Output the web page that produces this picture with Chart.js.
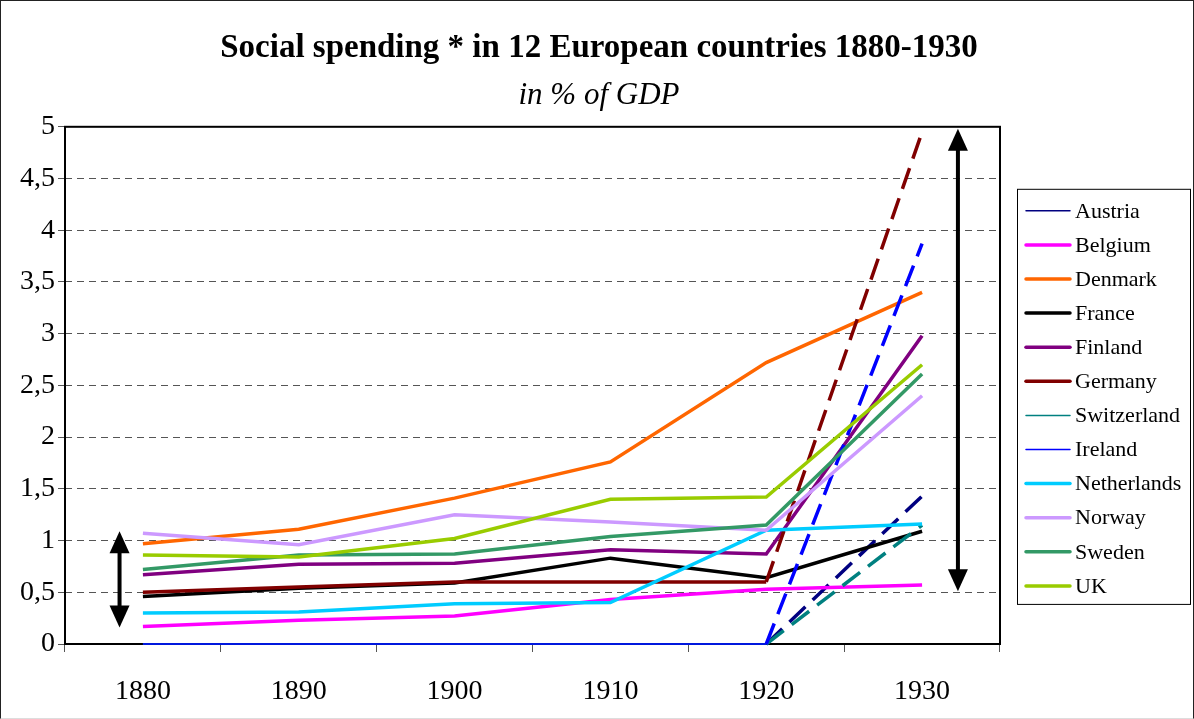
<!DOCTYPE html>
<html>
<head>
<meta charset="utf-8">
<script src="https://cdn.jsdelivr.net/npm/chart.js@4.4.1/dist/chart.umd.min.js"></script>
<style>
  html, body { margin: 0; padding: 0; background: #fff; }
  #marco { width: 1194px; height: 719px; box-sizing: border-box; border: 1px solid #222; border-bottom-color: #ddd; }
</style>
</head>
<body>
<div id="marco"><canvas id="lienzo"></canvas></div>
<script>
"use strict";

// Datos (% del PIB)
const years = ["1880", "1890", "1900", "1910", "1920", "1930"];
const countries = ["Austria", "Belgium", "Denmark", "France", "Finland", "Germany",
  "Switzerland", "Ireland", "Netherlands", "Norway", "Sweden", "UK"];

const austria     = [0, 0, 0, 0, 0, 1.43];
const belgium     = [0.17, 0.23, 0.27, 0.43, 0.53, 0.57];
const denmark     = [0.97, 1.11, 1.41, 1.76, 2.72, 3.40];
const france      = [0.46, 0.54, 0.59, 0.83, 0.64, 1.09];
const finland     = [0.67, 0.77, 0.78, 0.91, 0.87, 2.98];
const germany     = [0.50, 0.55, 0.60, 0.60, 0.60, 4.95];
const switzerland = [0, 0, 0, 0, 0, 1.15];
const ireland     = [0, 0, 0, 0, 0, 3.87];
const netherlands = [0.30, 0.31, 0.39, 0.40, 1.10, 1.16];
const norway      = [1.07, 0.96, 1.25, 1.18, 1.10, 2.40];
const sweden      = [0.72, 0.86, 0.87, 1.04, 1.15, 2.61];
const uk          = [0.86, 0.84, 1.02, 1.40, 1.42, 2.70];

const series = [austria, belgium, denmark, france, finland, germany,
  switzerland, ireland, netherlands, norway, sweden, uk];

const yTickLabels = ["0", "0,5", "1", "1,5", "2", "2,5", "3", "3,5", "4", "4,5", "5"];

// series con el ultimo tramo (1920-1930) discontinuo
const dashedSeries = ["Austria", "Germany", "Switzerland", "Ireland"];
const thinSeries = ["Austria", "Switzerland", "Ireland"];

// flechas dobles (posicion en categorias, extremos en % del PIB)
const arrows = [
  { at: -0.15, top: 1.09, bottom: 0.16 },
  { at: 5.23, top: 4.98, bottom: 0.51 },
];

const colores = ["#000080", "#FF00FF", "#FF6600", "#000000", "#800080", "#800000",
  "#008080", "#0000FF", "#00CCFF", "#CC99FF", "#339966", "#99CC00"];

const FUENTE = "'Liberation Serif', 'DejaVu Serif', serif";
Chart.defaults.font.family = FUENTE;
Chart.defaults.color = "#000";

const datasets = countries.map((nombre, i) => {
  const discontinua = dashedSeries.includes(nombre);
  return {
    label: nombre,
    data: series[i],
    borderColor: colores[i],
    backgroundColor: colores[i],
    borderWidth: thinSeries.includes(nombre) ? 1.5 : 3.5,
    pointRadius: 0,
    pointHoverRadius: 0,
    tension: 0,
    fill: false,
    clip: false,
    order: countries.length - i,
    segment: discontinua ? {
      borderDash: (c) => (c.p1DataIndex === years.length - 1 ? [22, 10] : undefined),
      borderWidth: (c) => (c.p1DataIndex === years.length - 1 ? 3.5 : undefined),
    } : undefined,
  };
});

/* ── Marco, flechas y leyenda ───────────────────────────── */
const extras = {
  id: "extras",
  beforeDatasetsDraw(chart) {
    const { ctx, chartArea: a } = chart;
    ctx.save();
    ctx.setLineDash([]);
    ctx.strokeStyle = "#000";
    ctx.lineWidth = 2;
    ctx.strokeRect(a.left, a.top, a.right - a.left, a.bottom - a.top);
    ctx.restore();
  },
  afterDatasetsDraw(chart) {
    const { ctx, scales } = chart;
    ctx.save();
    ctx.setLineDash([]);
    ctx.strokeStyle = "#000";
    ctx.fillStyle = "#000";
    ctx.lineWidth = 4;
    arrows.forEach((f) => {
      const x = scales.x.getPixelForValue(f.at);
      const y1 = scales.y.getPixelForValue(f.top);
      const y2 = scales.y.getPixelForValue(f.bottom);
      const h = 22, w = 10;
      ctx.beginPath();
      ctx.moveTo(x, y1 + h - 2);
      ctx.lineTo(x, y2 - h + 2);
      ctx.stroke();
      ctx.beginPath();
      ctx.moveTo(x, y1); ctx.lineTo(x - w, y1 + h); ctx.lineTo(x + w, y1 + h); ctx.closePath();
      ctx.fill();
      ctx.beginPath();
      ctx.moveTo(x, y2); ctx.lineTo(x - w, y2 - h); ctx.lineTo(x + w, y2 - h); ctx.closePath();
      ctx.fill();
    });
    ctx.restore();
  },
  afterDraw(chart) {
    const { ctx, chartArea: a } = chart;
    const left = a.right + 17;
    const top = a.top + 62;
    const paso = 34.1;
    const alto = 22 + (countries.length - 1) * paso + 18;
    ctx.save();
    ctx.setLineDash([]);
    ctx.strokeStyle = "#000";
    ctx.lineWidth = 1;
    ctx.strokeRect(left + 0.5, top + 0.5, 173, alto);
    ctx.font = "22px " + FUENTE;
    ctx.textBaseline = "middle";
    ctx.fillStyle = "#000";
    chart.data.datasets.forEach((ds, i) => {
      const y = top + 22 + i * paso;
      ctx.beginPath();
      ctx.setLineDash([]);
      ctx.strokeStyle = ds.borderColor;
      ctx.lineWidth = ds.borderWidth;
      ctx.lineCap = "round";
      ctx.moveTo(left + 9, y);
      ctx.lineTo(left + 53, y);
      ctx.stroke();
      ctx.fillText(ds.label, left + 58, y + 1);
    });
    ctx.restore();
  },
};

const grafico = new Chart(document.getElementById("lienzo").getContext("2d"), {
  type: "line",
  data: { labels: years, datasets },
  options: {
    responsive: true,
    maintainAspectRatio: false,
    animation: false,
    layout: { padding: { left: 7, right: 3, top: 0, bottom: 0 } },
    plugins: {
      legend: { display: false },
      tooltip: { enabled: false },
      title: {
        display: true,
        text: "Social spending * in 12 European countries 1880-1930",
        font: { size: 33, weight: "bold" },
        color: "#000",
        padding: { top: 28, bottom: 9 },
      },
      subtitle: {
        display: true,
        text: "in % of GDP",
        font: { size: 31, style: "italic" },
        color: "#000",
        padding: { top: 0, bottom: 12 },
      },
    },
    scales: {
      x: {
        type: "category",
        offset: true,
        grid: { offset: true, drawOnChartArea: false, tickLength: 8, color: "#555", tickColor: "#555" },
        border: { display: false },
        ticks: { font: { size: 28 }, padding: 23, color: "#000" },
        afterFit: (s) => { s.height = 74; },
      },
      y: {
        min: 0,
        max: 5,
        ticks: {
          stepSize: 0.5,
          font: { size: 28 },
          padding: 3,
          color: "#000",
          callback: (v, i) => yTickLabels[i],
        },
        grid: { color: "#555", lineWidth: 1, tickLength: 7, tickColor: "#555", tickBorderDash: [] },
        border: { display: false, dash: [7, 5] },
        afterFit: (s) => { s.width = 57; },
      },
      hueco: {
        type: "linear",
        position: "right",
        display: true,
        grid: { display: false, drawTicks: false },
        border: { display: false },
        ticks: { display: false },
        afterFit: (s) => { s.width = 190; },
      },
    },
  },
  plugins: [extras],
});
</script>
</body>
</html>
